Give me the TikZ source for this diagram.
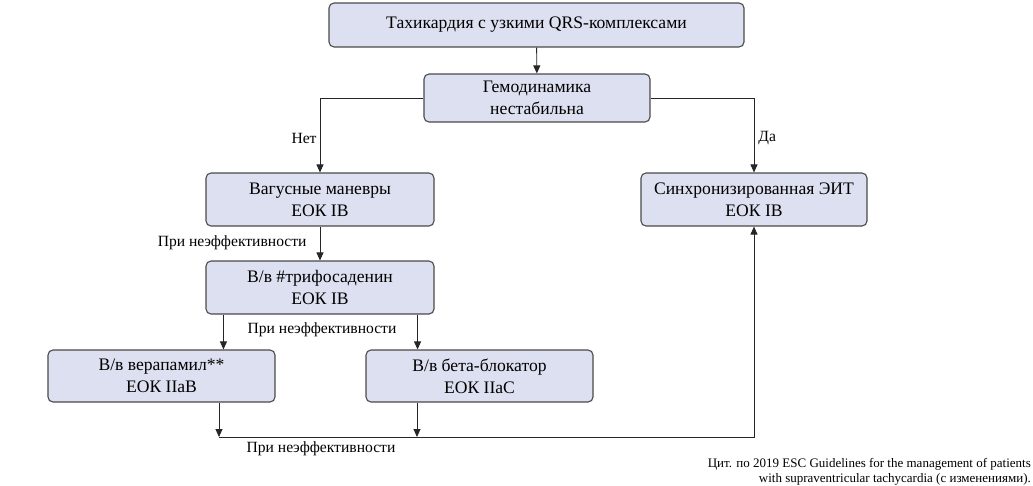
\documentclass[tikz,border=0pt]{standalone}
\usepackage{fontspec}
\setmainfont{Liberation Serif}
\usetikzlibrary{arrows.meta,calc}
\definecolor{boxfill}{HTML}{DDE0F0}
\definecolor{boxline}{HTML}{4A4A4A}
\tikzset{
  box/.style={draw=boxline, fill=boxfill, line width=1.1pt, rounded corners=5pt,
    align=center, inner sep=0pt, font=\fontsize{17.6}{22}\selectfont},
  arr/.style={draw=black!85, line width=0.9pt, -{Triangle[length=8pt,width=7pt]}},
  ln/.style={draw=black!85, line width=0.9pt},
  lbl/.style={font=\fontsize{15.6}{18}\selectfont, inner sep=2pt},
  foot/.style={font=\fontsize{13}{15}\selectfont, align=right, inner sep=0pt}
}
\begin{document}
\begin{tikzpicture}[x=1pt,y=-1pt]
\useasboundingbox (0,0) rectangle (1033,485);
\node[box, minimum width=415pt, minimum height=44pt] (top) at (536.5,25) {Тахикардия с узкими QRS-комплексами};
\node[box, minimum width=226pt, minimum height=48pt] (hemo) at (537,98) {Гемодинамика\\нестабильна};
\node[box, minimum width=228pt, minimum height=53pt] (vag) at (320,199.5) {Вагусные маневры\\ЕОК IB};
\node[box, minimum width=226pt, minimum height=53pt] (sync) at (754,199.5) {Синхронизированная ЭИТ\\ЕОК IB};
\node[box, minimum width=228pt, minimum height=53pt] (trif) at (320,287.5) {В/в \#трифосаденин\\ЕОК IB};
\node[box, minimum width=227pt, minimum height=52pt] (ver) at (161.5,376) {В/в верапамил**\\ЕОК IIaB};
\node[box, minimum width=227pt, minimum height=52pt] (beta) at (479.5,376) {В/в бета-блокатор\\ЕОК IIaC};

\draw[arr] (top) -- (hemo);
\draw[arr] (hemo.west) -| node[lbl, pos=0.77, left, xshift=-1pt] (no) {Нет} (vag.north);
\draw[arr] (hemo.east) -| node[lbl, pos=0.77, right, xshift=2pt] (yes) {Да} (sync.north);
\draw[arr] (vag) -- node[lbl, left, xshift=-11pt, yshift=1pt] (l1) {При неэффективности} (trif);
\coordinate (t1) at ([xshift=18pt]trif.south west);
\coordinate (t2) at ([xshift=-17pt]trif.south east);
\draw[arr] (t1) -- (t1 |- ver.north);
\draw[arr] (t2) -- (t2 |- beta.north);
\node[lbl] (l2) at (322,330) {При неэффективности};
\coordinate (j1) at (219,437);
\coordinate (j2) at (417,437);
\draw[arr] (ver.south -| j1) -- (j1);
\draw[arr] (beta.south -| j2) -- (j2);
\draw[arr] (j1) -| (sync.south);
\node[lbl] (l3) at (321,449) {При неэффективности};
\node[foot, anchor=east] (fn) at (1031,471.5) {Цит. по 2019 ESC Guidelines for the management of patients\\with supraventricular tachycardia (с изменениями).};
\end{tikzpicture}
\end{document}
